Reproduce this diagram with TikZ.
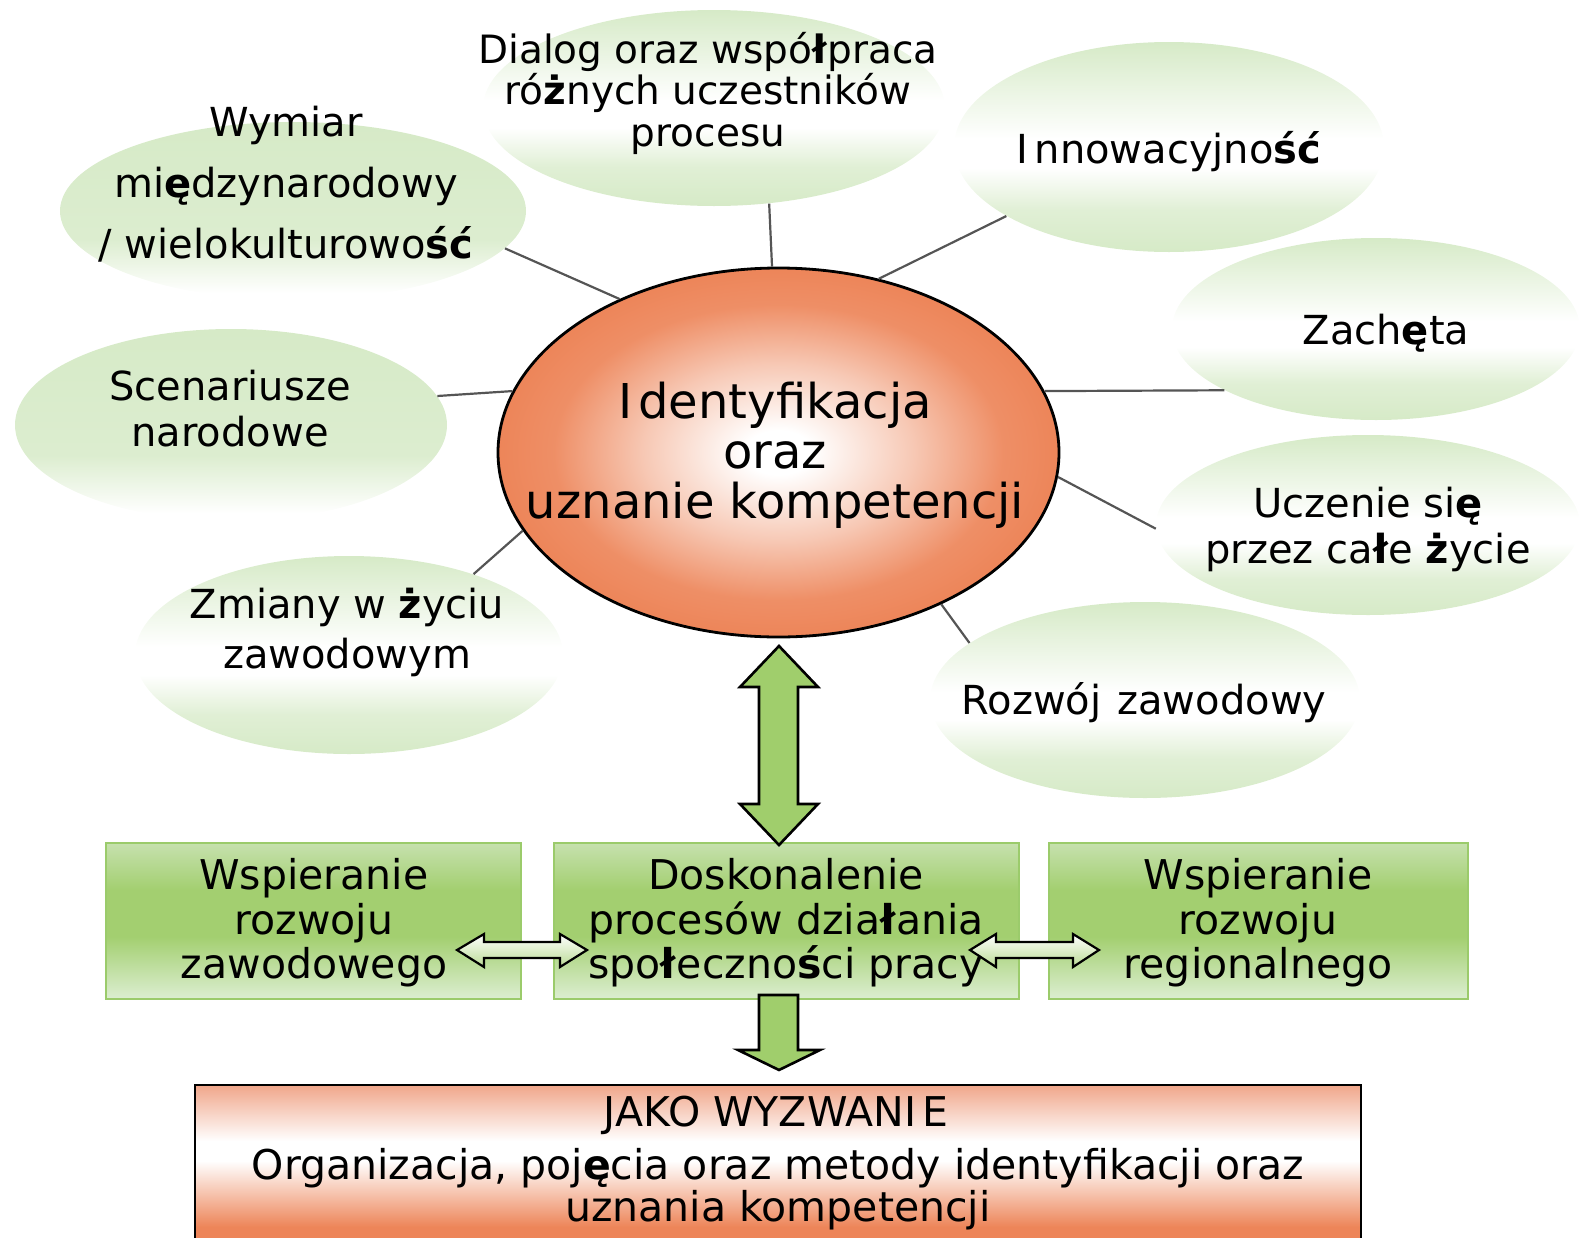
\documentclass[tikz,border=0pt]{standalone}
\usepackage{fontspec}
\setmainfont{DejaVu Sans}
\usetikzlibrary{shapes.geometric}
\definecolor{lg}{RGB}{214,234,199}
\definecolor{orng}{RGB}{237,133,89}
\definecolor{salm}{RGB}{240,166,138}
\definecolor{gtop}{RGB}{198,225,174}
\definecolor{gmid}{RGB}{163,207,112}
\definecolor{gbot}{RGB}{220,238,209}
\definecolor{gbord}{RGB}{155,203,107}
\definecolor{agreen}{RGB}{160,206,108}
\definecolor{linec}{RGB}{85,85,85}
\pgfdeclareverticalshading{ellA}{100bp}{color(0bp)=(lg); color(25bp)=(lg); color(35bp)=(lg!75!white); color(45bp)=(white); color(52bp)=(white); color(75bp)=(lg); color(100bp)=(lg)}
\pgfdeclareverticalshading{ellB}{100bp}{color(0bp)=(white); color(27bp)=(white); color(42bp)=(lg!85!white); color(75bp)=(lg); color(100bp)=(lg)}
\pgfdeclareverticalshading{boxG}{100bp}{color(0bp)=(gbot); color(25bp)=(gbot); color(45bp)=(gmid); color(60bp)=(gmid); color(75bp)=(gtop); color(100bp)=(gtop)}
\pgfdeclareverticalshading{boxO}{100bp}{color(0bp)=(orng); color(32bp)=(orng); color(52bp)=(white); color(58bp)=(white); color(75bp)=(salm); color(100bp)=(salm)}
\pgfdeclareradialshading{glowO}{\pgfpoint{0bp}{0bp}}{color(0bp)=(white); color(3bp)=(white); color(12bp)=(orng!45!white); color(20bp)=(orng!92!white); color(25bp)=(orng); color(50bp)=(orng)}
\tikzset{
  gell/.style={ellipse, inner sep=0pt, shade, shading=ellA},
  gellb/.style={ellipse, inner sep=0pt, shade, shading=ellB},
  etext/.style={align=center, inner sep=0pt, font=\fontsize{20}{23}\selectfont},
  conn/.style={draw=linec, line width=1.1pt},
  gbox/.style={rectangle, inner sep=0pt, shade, shading=boxG, draw=gbord, line width=1.2pt, minimum height=78pt},
  btext/.style={align=center, inner sep=0pt, font=\fontsize{20.5}{22.25}\selectfont},
  blockarrow/.style={draw=black, line width=1.3pt, fill=agreen, line join=miter},
  harrow/.style={draw=black, line width=1.1pt, top color=white, bottom color=gmid!75!white, line join=miter},
}
\begin{document}
\begin{tikzpicture}[x=0.5pt,y=-0.5pt]
\useasboundingbox (0,0) rectangle (1585,1237);
% green ellipses
\node[gellb, minimum width=233pt, minimum height=89pt] (W) at (293,211) {};
\node[gell, minimum width=231pt, minimum height=98pt] (D) at (714,108) {};
\node[gell, minimum width=215pt, minimum height=105pt] (I) at (1169,147) {};
\node[gell, minimum width=204pt, minimum height=91pt] (Z) at (1376,329) {};
\node[gell, minimum width=212pt, minimum height=90pt] (U) at (1368,525) {};
\node[gell, minimum width=215pt, minimum height=98pt] (R) at (1145,700) {};
\node[gell, minimum width=214pt, minimum height=99pt] (Zm) at (349,655) {};
\node[gellb, minimum width=216pt, minimum height=96pt] (S) at (231,425) {};
% centre
\node[ellipse, draw=black, line width=1.4pt, shade, shading=glowO, minimum width=280.5pt, minimum height=184.5pt, inner sep=0pt] (C) at (778.5,452.5) {};
% texts
\node[etext, font=\fontsize{20}{30.5}\selectfont] (Wt) at (286,184) {Wymiar\\mi\textbf{ę}dzynarodowy\\/ wielokulturowo\textbf{ść}};
\node[etext, font=\fontsize{19.5}{20.75}\selectfont] (Dt) at (708,93) {Dialog oraz wsp\'o\textbf{ł}praca\\r\'o\textbf{ż}nych uczestnik\'ow\\procesu};
\node[etext] (It) at (1169,152) {I\kern3pt nnowacyjno\textbf{ść}};
\node[etext] (Zt) at (1386,333) {Zach\textbf{ę}ta};
\node[etext] (Ut) at (1368,529) {Uczenie si\textbf{ę}\\przez ca\textbf{ł}e \textbf{ż}ycie};
\node[etext] (Rt) at (1144,703) {Rozw\'oj\hspace{0.4em}zawodowy};
\node[etext, font=\fontsize{20}{25}\selectfont] (Zmt) at (347,632) {Zmiany w \textbf{ż}yciu\\zawodowym};
\node[etext] (St) at (230,409) {Scenariusze\\narodowe};
\node[align=center, inner sep=0pt, font=\fontsize{24}{25}\selectfont] (Ct) at (775,455) {I\kern3pt dentyfikacja\\oraz\\uznanie kompetencji};
% connectors
\draw[conn] (W.-10.8) -- (C.136.7);
\draw[conn] (D.-60.5) -- (C.92.6);
\draw[conn] (I.203.1) -- (C.60.1);
\draw[conn] (Z.202.3) -- (C.13);
\draw[conn] (U.181.4) -- (C.-5.8);
\draw[conn] (R.162.7) -- (C.-43.7);
\draw[conn] (Zm.33.5) -- (C.197.6);
\draw[conn] (S.8.7) -- (C.167.6);
% boxes
\node[gbox, minimum width=207.5pt] (B1) at (313.5,921) {};
\node[gbox, minimum width=232.5pt] (B2) at (786.5,921) {};
\node[gbox, minimum width=209.5pt] (B3) at (1258.5,921) {};
\node[btext] (B1t) at (314,923) {Wspieranie\\rozwoju\\zawodowego};
\node[btext] (B2t) at (786,923) {Doskonalenie\\proces\'ow dzia\textbf{ł}ania\\spo\textbf{ł}eczno\textbf{ś}ci pracy};
\node[btext] (B3t) at (1258,923) {Wspieranie\\rozwoju\\regionalnego};
% bottom box
\node[rectangle, inner sep=0pt, shade, shading=boxO, draw=black, line width=1.2pt, minimum width=583pt, minimum height=82.5pt] (F) at (778,1167.5) {};
\node[inner sep=0pt, font=\fontsize{20.5}{22}\selectfont] (Ft1) at (776,1115) {JAKO WYZWANI\kern3pt E};
\node[align=center, inner sep=0pt, font=\fontsize{20.5}{19}\selectfont] (Ft2) at (778,1189) {Organizacja, poj\textbf{ę}cia oraz metody identyfikacji oraz\\uznania kompetencji};
% big double arrow
\draw[blockarrow] (779,646) -- (818,687) -- (798,687) -- (798,804) -- (818,804) -- (779,845) -- (740,804) -- (759,804) -- (759,687) -- (740,687) -- cycle;
% down arrow
\draw[blockarrow] (759,995) -- (798,995) -- (798,1050) -- (820,1050) -- (779,1070) -- (738,1050) -- (759,1050) -- cycle;
% horizontal double arrows
\draw[harrow] (457,950) -- (484,934) -- (484,942) -- (560,942) -- (560,934) -- (587,950) -- (560,967) -- (560,958) -- (484,958) -- (484,967) -- cycle;
\draw[harrow] (970,950) -- (996,934) -- (996,942) -- (1073,942) -- (1073,934) -- (1099,950) -- (1073,967) -- (1073,958) -- (996,958) -- (996,967) -- cycle;
\end{tikzpicture}
\end{document}
